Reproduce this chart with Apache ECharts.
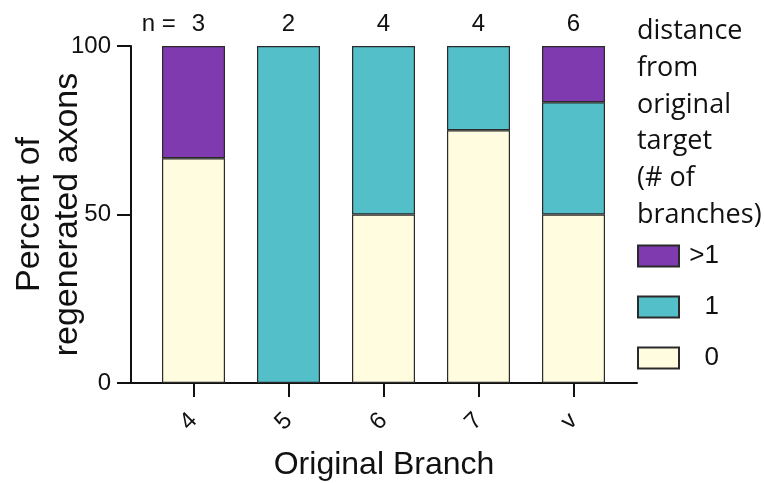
<!DOCTYPE html>
<html>
<head>
<meta charset="utf-8">
<script src="https://cdn.jsdelivr.net/npm/echarts@6/dist/echarts.min.js"></script>
<style>
html,body{margin:0;padding:0;background:#fff;}
#chart{width:764px;height:483px;}
</style>
</head>
<body>
<div id="chart"></div>
<script>
const categories = ['4', '5', '6', '7', 'v'];
const nCounts = [3, 2, 4, 4, 6];
const zeroPct = [66.7, 0, 50, 75, 50];
const onePct = [0, 100, 50, 25, 33.3];
const morePct = [33.3, 0, 0, 0, 16.7];
const yTicks = [0, 50, 100];
const legendTitle = 'distance\nfrom\noriginal\ntarget\n(# of\nbranches)';
const seriesNames = ['0', '1', '>1'];
const seriesColors = ['#FFFCE0', '#53BFC9', '#7F3AAF'];

const FONT = 'Liberation Sans';
const chart = echarts.init(document.getElementById('chart'));

function mkSeries(name, vals, color) {
  return {
    name: name,
    type: 'bar',
    stack: 'all',
    barWidth: 63,
    xAxisIndex: 0,
    yAxisIndex: 0,
    // empty segments (0 %) are not drawn
    data: vals.map(v => (v === 0 ? null : v)),
    itemStyle: { color: color, borderColor: '#2a2a2a', borderWidth: 1.2 },
    emphasis: { disabled: true }
  };
}

chart.setOption({
  animation: false,
  backgroundColor: '#fff',
  title: {
    text: legendTitle,
    left: 637,
    top: 13,
    padding: 0,
    textStyle: { fontFamily: 'Open Sans', fontWeight: 'normal', fontSize: 27, lineHeight: 36.8, color: '#111' }
  },
  legend: {
    orient: 'vertical',
    left: 637,
    top: 243,
    padding: 0,
    icon: 'rect',
    itemWidth: 41,
    itemHeight: 21,
    itemGap: 25,
    data: ['>1', '1', '0'],
    formatter: n => '{t|' + n + '}',
    textStyle: {
      fontFamily: FONT, fontSize: 26, color: '#111', lineHeight: 21,
      rich: { t: { width: 35, align: 'right', fontFamily: FONT, fontSize: 26, color: '#111', lineHeight: 21 } }
    }
  },
  grid: [
    { left: 146, right: 143, top: 46, bottom: 100, containLabel: false, outerBoundsMode: 'none' },
    { left: 131, right: 127, top: 46, bottom: 100, containLabel: false, outerBoundsMode: 'none' }
  ],
  xAxis: [{
    type: 'category',
    gridIndex: 0,
    position: 'bottom',
    data: categories,
    axisLine: { show: false },
    axisTick: { show: true, alignWithLabel: true, length: 14, lineStyle: { color: '#111', width: 2 } },
    axisLabel: { rotate: 45, margin: 34, interval: 0, fontFamily: FONT, fontSize: 24, color: '#111' },
    splitLine: { show: false }
  }, {
    type: 'category',
    gridIndex: 0,
    position: 'top',
    data: categories,
    axisLine: { show: false },
    axisTick: { show: false },
    axisLabel: {
      margin: 10,
      interval: 0,
      hideOverlap: false,
      fontFamily: FONT, fontSize: 24, color: '#111',
      formatter: (v, i) => i === 0 ? '{a|n = }{b|' + nCounts[i] + '}{c|}' : '{b|' + nCounts[i] + '}',
      rich: {
        a: { width: 50, align: 'left', fontFamily: FONT, fontSize: 24, color: '#111' },
        b: { fontFamily: FONT, fontSize: 24, color: '#111' },
        c: { width: 40, fontFamily: FONT, fontSize: 24 }
      }
    },
    splitLine: { show: false }
  }, {
    type: 'value',
    gridIndex: 1,
    position: 'bottom',
    min: 0,
    max: 1,
    name: 'Original Branch',
    nameLocation: 'middle',
    nameGap: 66,
    nameMoveOverlap: false,
    nameTextStyle: { fontFamily: FONT, fontSize: 32, color: '#111' },
    axisLine: { show: true, onZero: false, lineStyle: { color: '#111', width: 2 } },
    axisTick: { show: false },
    axisLabel: { show: false },
    splitLine: { show: false }
  }],
  yAxis: [{
    type: 'value',
    gridIndex: 0,
    min: yTicks[0],
    max: yTicks[yTicks.length - 1],
    interval: 50,
    offset: 15,
    name: 'Percent of\nregenerated axons',
    nameLocation: 'middle',
    nameGap: 44,
    nameMoveOverlap: false,
    nameTextStyle: { fontFamily: FONT, fontSize: 34, color: '#111', lineHeight: 38 },
    axisLine: { show: true, onZero: false, lineStyle: { color: '#111', width: 2 } },
    axisTick: { show: true, length: 14, lineStyle: { color: '#111', width: 2 } },
    axisLabel: { margin: 20, fontFamily: FONT, fontSize: 24, color: '#111' },
    splitLine: { show: false }
  }, {
    type: 'value',
    gridIndex: 1,
    min: 0,
    max: 1,
    axisLine: { show: false },
    axisTick: { show: false },
    axisLabel: { show: false },
    splitLine: { show: false }
  }],
  series: [
    mkSeries(seriesNames[0], zeroPct, seriesColors[0]),
    mkSeries(seriesNames[1], onePct, seriesColors[1]),
    mkSeries(seriesNames[2], morePct, seriesColors[2])
  ]
});
</script>
</body>
</html>
